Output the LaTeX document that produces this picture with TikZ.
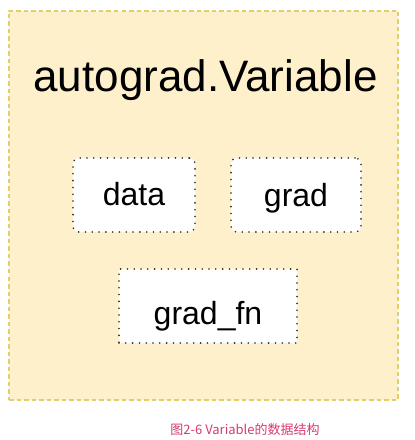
\documentclass[tikz,border=0pt]{standalone}
\usepackage{fontspec}
\setmainfont{Liberation Sans}
\newfontfamily\cjkfont{Noto Sans CJK SC}
\definecolor{varfill}{HTML}{FDF0CB}
\definecolor{varline}{HTML}{E2CE6C}
\definecolor{capred}{HTML}{D63A6C}
\definecolor{dotgray}{HTML}{2A2A2A}

\begin{document}
\begin{tikzpicture}[x=1pt, y=1pt,
  varbox/.style={draw=varline, fill=varfill, line width=1.2pt, dash pattern=on 4.5pt off 3pt, minimum width=389pt, minimum height=389pt, inner sep=0pt},
  fieldbox/.style={draw=dotgray, fill=white, line width=1.8pt, line cap=round, dash pattern=on 0pt off 6.8pt, minimum height=74pt, inner sep=0pt, text depth=0pt, font=\fontsize{32}{38}\selectfont}]
\useasboundingbox (0, 0) rectangle (415, 440);
\node [varbox] (var) at (203.5, 234.5) {};
\node [anchor=base, font=\fontsize{44}{52}\selectfont] (title) at (205.5, 348) {autograd.Variable};
\node [fieldbox, rounded corners=6pt, minimum width=122pt, text height=22pt] (data) at (134, 245) {data};
\node [fieldbox, rounded corners=6pt, minimum width=130pt, text height=24pt] (grad) at (296, 245) {grad};
\node [fieldbox, minimum width=178pt, text height=38pt] (gradfn) at (208, 134) {grad\_fn};
\node [text=capred, font=\cjkfont\fontsize{13}{16}\selectfont] (caption) at (245, 10) {图2-6 Variable的数据结构};
\end{tikzpicture}
\end{document}
